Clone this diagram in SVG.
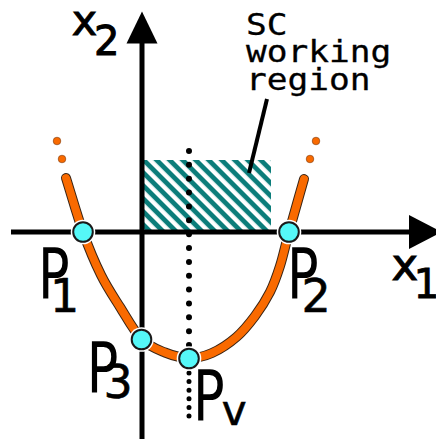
<svg xmlns="http://www.w3.org/2000/svg" width="436" height="439" viewBox="0 0 436 439">
<style>
.ax{stroke:#000;stroke-width:5;fill:none}
.lbl{font-family:"DejaVu Sans",sans-serif;fill:#000}
.big{font-size:68.6px}
.sub{font-size:46px;stroke:#000;stroke-width:0.6}
.mono{font-family:"DejaVu Sans Mono","Liberation Mono",monospace;font-size:30px;fill:#000;stroke:#000;stroke-width:0.3}
.pt{fill:#55f8f8;stroke:#1a1a1a;stroke-width:2}
.halo{fill:#fff}
.dot{fill:#f96a00;stroke:#7a3a10;stroke-width:0.6}
.cv{fill:none;stroke-linecap:round}
</style>
<defs>
<pattern id="hatch" patternUnits="userSpaceOnUse" width="9.2" height="9.2" patternTransform="rotate(45)">
<rect x="0" y="0" width="9.2" height="4.8" fill="#0b7d7a"/>
</pattern>
<path id="parab" d="M66,178 C71.7,196 77.2,215.8 83,232 C88.8,248.2 94.8,262.5 101,275 C107.2,287.5 113.25,296.3 120,307 C126.75,317.7 134,331.4 141.5,339 C149,346.6 157.1,349.3 165,352.5 C172.9,355.7 181.2,357.9 189,358 C196.8,358.1 204.1,356.5 212,353 C219.9,349.5 229.3,343.2 236.5,337 C243.7,330.8 249.4,323.5 255,316 C260.6,308.5 265.8,300.3 270,292 C274.2,283.7 276.8,276 280,266 C283.2,256 285,246.5 289,232 C293,217.5 299,196.7 304,179"/>
</defs>
<g id="region">
<rect x="144" y="160" width="127" height="72" fill="url(#hatch)"/>
</g>
<g id="connectors">
<line class="ax" x1="11" y1="232" x2="412" y2="232"/>
<polygon points="409,215 442,232 409,249" fill="#000"/>
<line class="ax" x1="142" y1="439" x2="142" y2="40"/>
<polygon points="126.5,43.5 142,11.5 157.5,43.5" fill="#000"/>
<line x1="189" y1="151" x2="189" y2="346" stroke="#000" stroke-width="6" stroke-linecap="round" stroke-dasharray="0 13.86"/>
<line x1="189" y1="373" x2="189" y2="417" stroke="#000" stroke-width="5" stroke-linecap="round" stroke-dasharray="0 8.6"/>
<line x1="267" y1="99" x2="249" y2="173" stroke="#000" stroke-width="4"/>
</g>
<g id="curve">
<use href="#parab" class="cv" stroke="#3a2414" stroke-width="10"/>
<use href="#parab" class="cv" stroke="#f96a00" stroke-width="8"/>
<circle class="dot" cx="57" cy="141" r="3.8"/>
<circle class="dot" cx="62" cy="159" r="3.8"/>
<circle class="dot" cx="316" cy="141" r="3.8"/>
<circle class="dot" cx="310" cy="159" r="3.8"/>
</g>
<g id="P1">
<circle class="halo" cx="83" cy="232" r="12.3"/>
<circle class="pt" cx="83" cy="232" r="9.8"/>
<text class="lbl big" transform="translate(37.9,298) scale(0.765,1)">P</text>
<text class="lbl sub" x="50" y="312">1</text>
</g>
<g id="P2">
<circle class="halo" cx="289" cy="232" r="12.3"/>
<circle class="pt" cx="289" cy="232" r="9.8"/>
<text class="lbl big" transform="translate(286.9,298) scale(0.765,1)">P</text>
<text class="lbl sub" x="301.5" y="312">2</text>
</g>
<g id="P3">
<circle class="halo" cx="141.5" cy="339.5" r="12.3"/>
<circle class="pt" cx="141.5" cy="339.5" r="9.8"/>
<text class="lbl big" transform="translate(86.8,392) scale(0.765,1)">P</text>
<text class="lbl sub" x="103.5" y="398">3</text>
</g>
<g id="Pv">
<circle class="halo" cx="189" cy="358.5" r="12.3"/>
<circle class="pt" cx="189" cy="358.5" r="9.8"/>
<text class="lbl big" transform="translate(192.9,420) scale(0.765,1)">P</text>
<text class="lbl" font-size="42" x="221.7" y="425" stroke="#000" stroke-width="0.6">v</text>
</g>
<g id="x1">
<text class="lbl" font-size="45" x="391.6" y="280" stroke="#000" stroke-width="1">x</text>
<text class="lbl" font-size="41" x="413.5" y="298" stroke="#000" stroke-width="0.8">1</text>
</g>
<g id="x2">
<text class="lbl" font-size="43" x="71.7" y="35" stroke="#000" stroke-width="1">x</text>
<text class="lbl" font-size="40" x="94" y="55" stroke="#000" stroke-width="1">2</text>
</g>
<g id="label" transform="translate(246,35) scale(1.15,1)">
<text class="mono" x="0" y="0">SC</text>
<text class="mono" x="0" y="27">working</text>
<text class="mono" x="0" y="55">region</text>
</g>
</svg>
